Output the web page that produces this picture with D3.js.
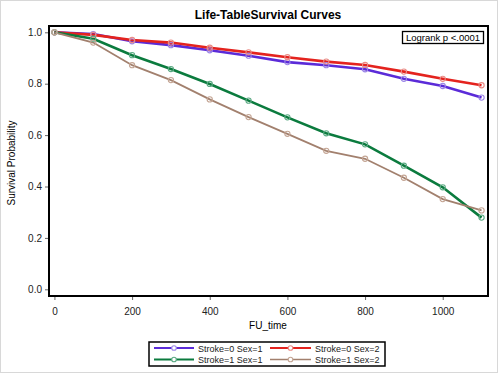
<!DOCTYPE html>
<html>
<head>
<meta charset="utf-8">
<script src="https://cdn.jsdelivr.net/npm/d3@7"></script>
<style>
  body { margin: 0; background: #fff; }
  text { font-family: "Liberation Sans", Arial, sans-serif; }
</style>
</head>
<body>
<div id="chart"></div>
<script>
const times = [0, 100, 200, 300, 400, 500, 600, 700, 800, 900, 1000, 1100];
const s0sex1 = [1.0, 0.993, 0.965, 0.95, 0.93, 0.909, 0.884, 0.872, 0.856, 0.819, 0.791, 0.746];
const s0sex2 = [1.0, 0.99, 0.97, 0.96, 0.94, 0.922, 0.903, 0.886, 0.873, 0.847, 0.819, 0.794];
const s1sex1 = [1.0, 0.975, 0.911, 0.857, 0.799, 0.734, 0.669, 0.607, 0.564, 0.481, 0.397, 0.279];
const s1sex2 = [1.0, 0.96, 0.872, 0.814, 0.739, 0.670, 0.605, 0.539, 0.508, 0.434, 0.351, 0.307];
const seriesNames = ["Stroke=0 Sex=1", "Stroke=0 Sex=2", "Stroke=1 Sex=1", "Stroke=1 Sex=2"];
const xTicks = [0, 200, 400, 600, 800, 1000];
const yTicks = [0.0, 0.2, 0.4, 0.6, 0.8, 1.0];

const series = [
    { name: seriesNames[0], values: s0sex1, color: "#5b2bd8", marker: "#9c86e6", width: 2.6 },
    { name: seriesNames[1], values: s0sex2, color: "#e4231e", marker: "#ea8c86", width: 2.6 },
    { name: seriesNames[2], values: s1sex1, color: "#0b7b3e", marker: "#5caa84", width: 2.6 },
    { name: seriesNames[3], values: s1sex2, color: "#a2806e", marker: "#c4a594", width: 1.8 }
];

const W = 500, H = 375;
const frame = { left: 49, right: 488, top: 26, bottom: 296 };

const svg = d3.select("#chart").append("svg")
    .attr("width", W)
    .attr("height", H);

// outer light border
svg.append("rect")
    .attr("x", 0.5).attr("y", 0.5)
    .attr("width", W - 3).attr("height", H - 3)
    .attr("fill", "#fff")
    .attr("stroke", "#d8d8d8");

const x = d3.scaleLinear().domain([-14, 1116.6]).range([frame.left, frame.right]);
const y = d3.scaleLinear().domain([-0.026, 1.0245]).range([frame.bottom, frame.top]);

svg.append("text")
    .attr("x", 268).attr("y", 19)
    .attr("text-anchor", "middle")
    .attr("font-size", 12).attr("font-weight", "bold")
    .text("Life-TableSurvival Curves");

// axes
const xAxis = svg.append("g")
    .attr("transform", `translate(0,${frame.bottom})`)
    .call(d3.axisBottom(x).tickValues(xTicks).tickSize(4).tickFormat(d3.format("d")));
const yAxis = svg.append("g")
    .attr("transform", `translate(${frame.left},0)`)
    .call(d3.axisLeft(y).tickValues(yTicks).tickSize(4).tickFormat(d3.format(".1f")));

[xAxis, yAxis].forEach(a => {
    a.select(".domain").remove();
    a.selectAll(".tick line").attr("stroke", "#666");
    a.selectAll(".tick text").attr("font-size", 10).attr("fill", "#222")
        .style("font-family", "'Liberation Sans', Arial, sans-serif");
});
xAxis.selectAll(".tick text").attr("dy", "1.15em");

// frame
svg.append("rect")
    .attr("x", frame.left).attr("y", frame.top)
    .attr("width", frame.right - frame.left)
    .attr("height", frame.bottom - frame.top)
    .attr("fill", "none")
    .attr("stroke", "#000")
    .attr("stroke-width", 2);

svg.append("text")
    .attr("x", 268).attr("y", 329)
    .attr("text-anchor", "middle")
    .attr("font-size", 10)
    .text("FU_time");

svg.append("text")
    .attr("transform", "translate(15,163) rotate(-90)")
    .attr("text-anchor", "middle")
    .attr("font-size", 10)
    .text("Survival Probability");

// lines
const line = d3.line()
    .x((d, i) => x(times[i]))
    .y(d => y(d));

const plot = svg.append("g");
series.forEach(s => {
    plot.append("path")
        .attr("d", line(s.values))
        .attr("fill", "none")
        .attr("stroke", s.color)
        .attr("stroke-width", s.width);
});
series.forEach(s => {
    plot.selectAll(null)
        .data(s.values)
        .enter()
        .append("circle")
        .attr("cx", (d, i) => x(times[i]))
        .attr("cy", d => y(d))
        .attr("r", 2.6)
        .attr("fill", "none")
        .attr("stroke", s.marker)
        .attr("stroke-width", 1.1);
});

// logrank box
const lr = svg.append("g");
lr.append("rect")
    .attr("x", 402.5).attr("y", 31.5)
    .attr("width", 81).attr("height", 12)
    .attr("fill", "#fff")
    .attr("stroke", "#000")
    .attr("stroke-width", 1.3);
lr.append("text")
    .attr("x", 443).attr("y", 41)
    .attr("text-anchor", "middle")
    .attr("font-size", 9.5)
    .text("Logrank p <.0001");

// legend
const legend = svg.append("g");
legend.append("rect")
    .attr("x", 149).attr("y", 342)
    .attr("width", 236).attr("height", 24)
    .attr("fill", "#fff")
    .attr("stroke", "#000")
    .attr("stroke-width", 1.5);

const legendPos = [
    { x: 154, y: 348 }, { x: 270, y: 348 },
    { x: 154, y: 359.5 }, { x: 270, y: 359.5 }
];
series.forEach((s, i) => {
    const p = legendPos[i];
    const len = i % 2 === 0 ? 40 : 41;
    legend.append("line")
        .attr("x1", p.x).attr("x2", p.x + len)
        .attr("y1", p.y).attr("y2", p.y)
        .attr("stroke", s.color)
        .attr("stroke-width", s.width * 0.8);
    legend.append("circle")
        .attr("cx", p.x + len / 2).attr("cy", p.y)
        .attr("r", 2.3)
        .attr("fill", "#fff")
        .attr("stroke", s.marker)
        .attr("stroke-width", 1.1);
    legend.append("text")
        .attr("x", p.x + len + 4).attr("y", p.y + 3.5)
        .attr("font-size", 9)
        .attr("fill", "#222")
        .text(s.name);
});
</script>
</body>
</html>
